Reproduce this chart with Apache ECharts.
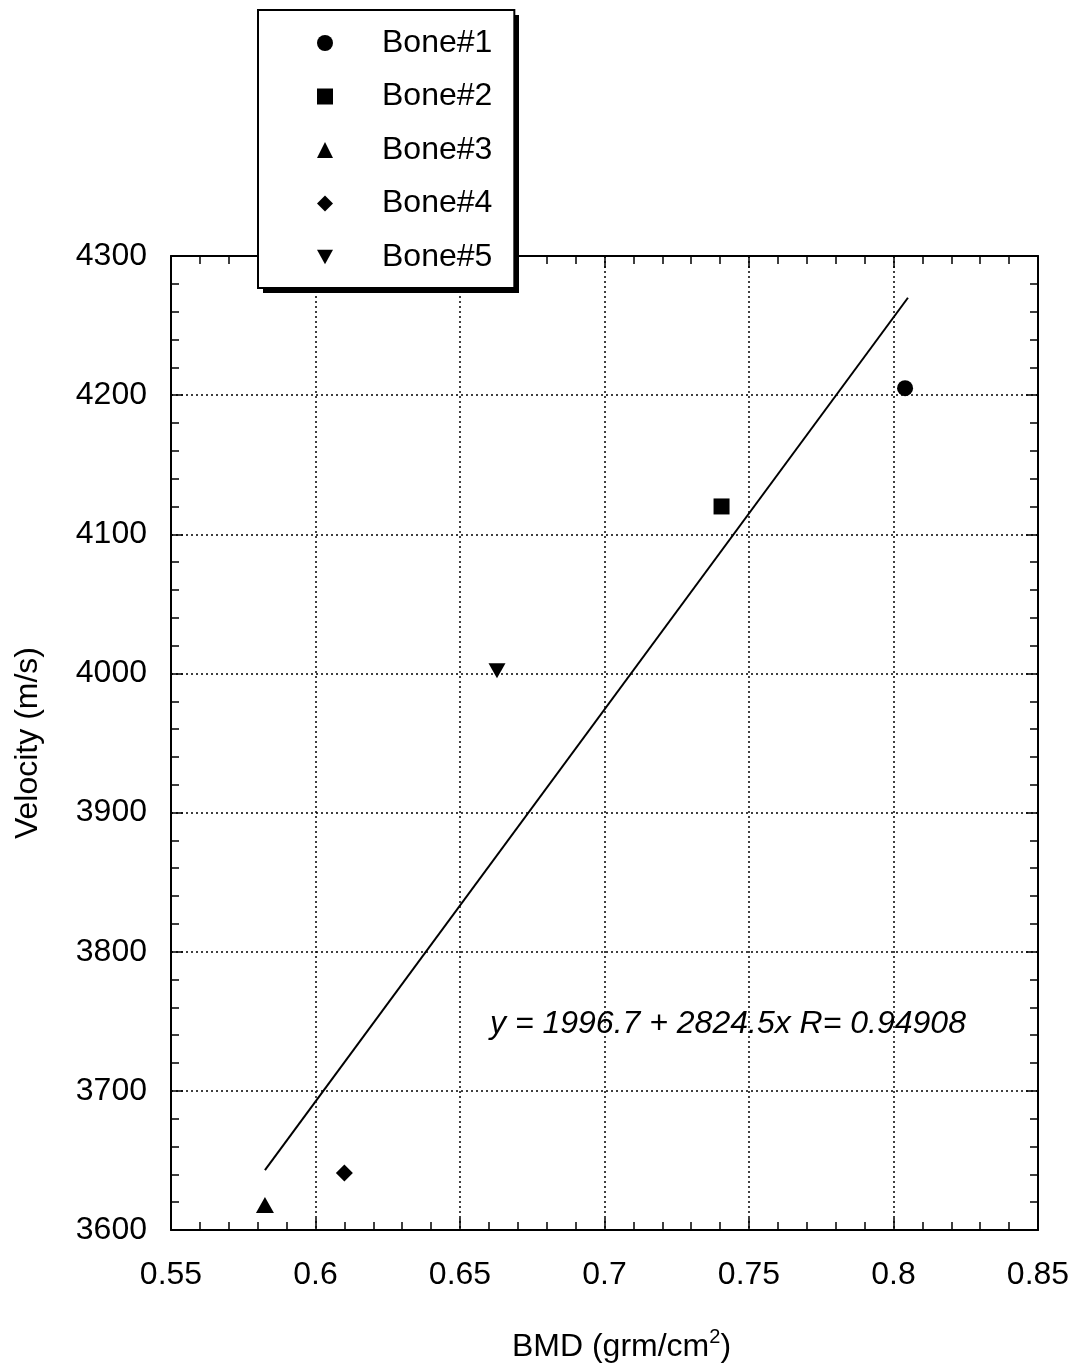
<!DOCTYPE html>
<html><head><meta charset="utf-8">
<script src="https://cdn.jsdelivr.net/npm/echarts@6/dist/echarts.min.js"></script>
<style>html,body{margin:0;padding:0;background:#fff}#c{width:1077px;height:1372px}</style>
</head><body><div id="c"></div>
<script>
const boneNames = ['Bone#1','Bone#2','Bone#3','Bone#4','Bone#5'];
const boneBMD = [0.804, 0.7405, 0.5825, 0.61, 0.6628];
const boneVelocity = [4205, 4120, 3618, 3641, 4002];
const boneSymbols = ['circle','rect','triangle','diamond','path://M0,0 L10,0 L5,9 Z'];
const boneSizes = [[16,16],[16,16],[18,16],[17,17],[17,15]];
const fitX = [0.5825, 0.805];
const fitY = [3643, 4270];
const xTicks = [0.55,0.6,0.65,0.7,0.75,0.8,0.85];
const yTicks = [3600,3700,3800,3900,4000,4100,4200,4300];
const equationText = 'y = 1996.7 + 2824.5x R= 0.94908';

const FONT = 'Liberation Sans, Arial, Helvetica, sans-serif';
const FS = 32;
const chart = echarts.init(document.getElementById('c'), null, {renderer:'canvas'});

const baseX = {
  type:'value', min:xTicks[0], max:xTicks[xTicks.length-1], interval:0.05,
  axisLine:{show:true, onZero:false, lineStyle:{color:'#000', width:2}},
  axisTick:{show:true, inside:true, length:12, lineStyle:{color:'#000', width:1.5}},
  minorTick:{show:true, splitNumber:5, length:8, lineStyle:{color:'#000', width:1.5}},
};
const baseY = {
  type:'value', min:yTicks[0], max:yTicks[yTicks.length-1], interval:100,
  axisLine:{show:true, onZero:false, lineStyle:{color:'#000', width:2}},
  axisTick:{show:true, inside:true, length:12, lineStyle:{color:'#000', width:1.5}},
  minorTick:{show:true, splitNumber:5, length:8, lineStyle:{color:'#000', width:1.5}},
};

const series = boneNames.map((n,i)=>({
  name:n, type:'scatter', xAxisIndex:0, yAxisIndex:0,
  symbol:boneSymbols[i], symbolSize:boneSizes[i],
  itemStyle:{color:'#000', opacity:1},
  data:[[boneBMD[i], boneVelocity[i]]], z:5
}));
series.unshift({
  name:'fit', type:'line', xAxisIndex:0, yAxisIndex:0, symbol:'none',
  lineStyle:{color:'#000', width:2}, data:fitX.map((x,i)=>[x, fitY[i]]), z:3, silent:true
});

chart.setOption({
  animation:false,
  backgroundColor:'#fff',
  grid:{left:171, right:39, top:256, bottom:142, containLabel:false},
  xAxis:[
    Object.assign({}, baseX, {
      position:'bottom',
      axisLabel:{show:true, margin:29, color:'#000', fontSize:FS, fontFamily:FONT,
        formatter:v=>String(+v.toFixed(2))},
      splitLine:{show:true, lineStyle:{color:'#000', type:[2,3], width:1.5}},
      name:'{a|BMD (grm/cm}{s|2}{a|)}', nameLocation:'middle', nameGap:97,
      nameTextStyle:{padding:[0,0,0,34], rich:{
        a:{fontSize:FS, fontFamily:FONT, color:'#000', verticalAlign:'bottom', lineHeight:36},
        s:{fontSize:20, fontFamily:FONT, color:'#000', verticalAlign:'top', lineHeight:36, padding:[0,0,14,0]}
      }}
    }),
    Object.assign({}, baseX, {position:'top', axisLabel:{show:false}, splitLine:{show:false}})
  ],
  yAxis:[
    Object.assign({}, baseY, {
      position:'left',
      axisLabel:{show:true, margin:24, color:'#000', fontSize:FS, fontFamily:FONT,
        formatter:v=>String(v)},
      splitLine:{show:true, lineStyle:{color:'#000', type:[2,3], width:1.5}},
      name:'Velocity (m/s)', nameLocation:'middle', nameGap:127,
      nameTextStyle:{fontSize:FS, fontFamily:FONT, color:'#000'}
    }),
    Object.assign({}, baseY, {position:'right', axisLabel:{show:false}, splitLine:{show:false}})
  ],
  legend:{
    data:boneNames, orient:'vertical', left:258, top:10,
    padding:[17,22,15,59], itemGap:21.5, itemWidth:16, itemHeight:16,
    backgroundColor:'#fff', borderColor:'#000', borderWidth:2,
    textStyle:{fontSize:FS, lineHeight:32, fontFamily:FONT, color:'#000', padding:[0,0,0,44]},
    z:20
  },
  graphic:[
    {type:'rect', left:263, top:15, z:15, shape:{width:256, height:278}, style:{fill:'#000'}},
    {type:'text', left:490, top:1008, z:10,
     style:{text:equationText, fontSize:FS, fontStyle:'italic', fontFamily:FONT, fill:'#000'}}
  ],
  series
});
</script></body></html>
